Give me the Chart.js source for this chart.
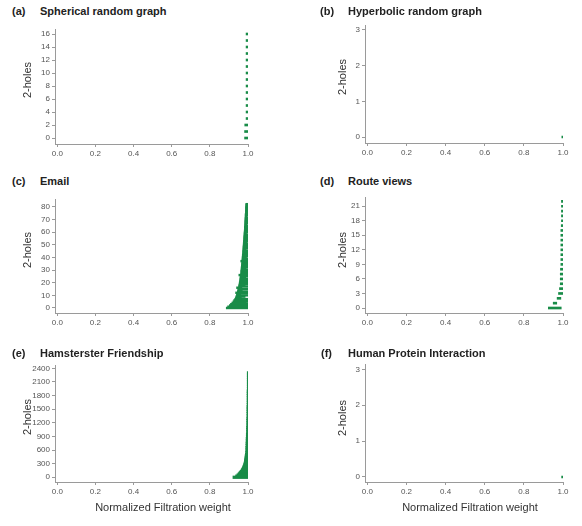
<!DOCTYPE html>
<html>
  <head>
    <meta charset="utf-8">
    <title>2-holes barcodes</title>
    <script src="https://cdn.jsdelivr.net/npm/chart.js"></script>
    <style>
    body { margin: 0; background: #fff; }
    #wrap { position: relative; width: 582px; height: 526px; overflow: hidden; font-family: "Liberation Sans", Arial, sans-serif; }
    canvas { position: absolute; }
    .txt { position: absolute; white-space: nowrap; line-height: 1; color: #222; }
    .head { font-size: 11px; font-weight: bold; transform: translateY(-50%); }
    .ytitle { font-size: 11px; color: #333; transform: translate(-50%, -50%) rotate(-90deg); }
    .xtitle { font-size: 11px; color: #333; transform: translate(-50%, -50%); }
  </style>
  </head>
  <body>
    <div id="wrap"></div>
    <script>
    // tick labels
    const xTicks = [0, 0.2, 0.4, 0.6, 0.8, 1.0];
    const sphericalTicks = [0, 2, 4, 6, 8, 10, 12, 14, 16];
    const hyperbolicTicks = [0, 1, 2, 3];
    const emailTicks = [0, 10, 20, 30, 40, 50, 60, 70, 80];
    const routeTicks = [0, 3, 6, 9, 12, 15, 18, 21];
    const hamsterTicks = [0, 300, 600, 900, 1200, 1500, 1800, 2100, 2400];
    const proteinTicks = [0, 1, 2, 3];

    const panelLetters = ["(a)", "(b)", "(c)", "(d)", "(e)", "(f)"];
    const panelNames = ["Spherical random graph", "Hyperbolic random graph", "Email",
      "Route views", "Hamsterster Friendship", "Human Protein Interaction"];
    const yTitle = "2-holes";
    const xTitle = "Normalized Filtration weight";

    // barcodes: birth / death of every 2-hole (row = hole index)
    const sphericalBirth = [0.982, 0.982, 0.983, 0.99, 0.99, 0.99, 0.99, 0.99, 0.99,
      0.99, 0.99, 0.99, 0.99, 0.99, 0.99, 0.99, 0.99];
    const sphericalDeath = [1, 1, 1, 1, 1, 1, 1, 1, 1, 1, 1, 1, 1, 1, 1, 1, 1];

    const hyperbolicBirth = [0.994];
    const hyperbolicDeath = [1];

    const emailBirth = [0.886, 0.893, 0.902, 0.908, 0.915, 0.921, 0.925, 0.93, 0.934, 0.936,
      0.939, 0.941, 0.935, 0.944, 0.946, 0.948, 0.94, 0.95, 0.952, 0.953,
      0.954, 0.955, 0.957, 0.957, 0.958, 0.959, 0.952, 0.961, 0.962, 0.962,
      0.963, 0.964, 0.964, 0.965, 0.966, 0.966, 0.967, 0.962, 0.968, 0.969,
      0.969, 0.97, 0.97, 0.971, 0.972, 0.972, 0.973, 0.973, 0.974, 0.974,
      0.975, 0.975, 0.976, 0.976, 0.977, 0.977, 0.978, 0.978, 0.979, 0.979,
      0.98, 0.98, 0.981, 0.981, 0.981, 0.982, 0.982, 0.983, 0.983, 0.983,
      0.984, 0.984, 0.985, 0.985, 0.985, 0.986, 0.986, 0.986, 0.987, 0.987,
      0.987, 0.988, 0.988];
    const emailDeath = [1, 1, 1, 1, 0.99, 1, 1, 1, 0.965, 0.985,
      1, 0.962, 1, 1, 0.97, 1, 0.968, 1, 0.985, 1,
      1, 1, 1, 1, 0.988, 1, 1, 1, 1, 1,
      1, 0.99, 1, 1, 1, 1, 1, 1, 1, 1,
      0.992, 1, 1, 1, 1, 1, 0.99, 1, 1, 1,
      1, 1, 0.993, 1, 1, 1, 1, 1, 1, 0.992,
      1, 1, 1, 1, 1, 1, 0.994, 1, 1, 1,
      1, 1, 0.993, 1, 1, 1, 1, 1, 1, 1,
      1, 1, 1];

    const routeBirth = [0.925, 0.95, 0.97, 0.977, 0.982, 0.986, 0.986, 0.986, 0.987, 0.989,
      0.989, 0.989, 0.989, 0.989, 0.989, 0.989, 0.989, 0.991, 0.992, 0.992,
      0.992, 0.992, 0.992];
    const routeDeath = [0.991, 0.968, 0.989, 1, 1, 1, 1, 1, 1, 1,
      1, 1, 1, 1, 1, 1, 1, 1, 1, 1,
      1, 1, 1];

    // hamsterster has ~2300 holes: rows read at these indices
    const hamsterRow = [0, 25, 50, 75, 100, 125, 150, 175, 200, 225, 250, 275, 300, 325, 350,
      375, 400, 425, 450, 475, 500, 550, 600, 650, 700, 750, 800, 850, 900, 950,
      1000, 1050, 1100, 1150, 1200, 1250, 1300, 1350, 1400, 1450, 1500, 1550, 1600,
      1650, 1700, 1750, 1800, 1850, 1900, 1950, 2000, 2050, 2100, 2150, 2200, 2250, 2300];
    const hamsterBirth = [0.921, 0.935, 0.942, 0.948, 0.953, 0.958, 0.963, 0.966, 0.97, 0.972,
      0.975, 0.977, 0.979, 0.98, 0.981, 0.982, 0.983, 0.984, 0.985, 0.985,
      0.986, 0.987, 0.988, 0.988, 0.989, 0.989, 0.99, 0.99, 0.991, 0.991,
      0.992, 0.992, 0.992, 0.993, 0.993, 0.993, 0.993, 0.994, 0.994, 0.994,
      0.994, 0.994, 0.995, 0.995, 0.995, 0.995, 0.995, 0.995, 0.995, 0.996,
      0.996, 0.996, 0.996, 0.996, 0.996, 0.996, 0.996];
    const hamsterDeath = hamsterRow.map(() => 1);

    const proteinBirth = [0.993];
    const proteinDeath = [1];

    const green = "#198c48";
    const axisColor = "#9a9a9a";
    const tickColor = "#555";

    const wrap = document.getElementById("wrap");

    function addText(cls, text, x, y) {
      const d = document.createElement("div");
      d.className = "txt " + cls;
      d.textContent = text;
      d.style.left = x + "px";
      d.style.top = y + "px";
      wrap.appendChild(d);
    }

    function toBars(birth, death, rows) {
      return birth.map((b, i) => ({ x: [b, death[i]], y: rows ? rows[i] : i }));
    }

    // box = plot area in page pixels
    function panel(box, yMin, yMax, yTicks, bars, thick) {
      const padL = 40, padT = 10, padR = 20, padB = 20;
      const c = document.createElement("canvas");
      const w = box.x1 - box.x0 + padL + padR;
      const h = box.y1 - box.y0 + padT + padB;
      c.width = w; c.height = h;
      c.style.left = (box.x0 - padL) + "px";
      c.style.top = (box.y0 - padT) + "px";
      c.style.width = w + "px"; c.style.height = h + "px";
      wrap.appendChild(c);

      const tickFont = { family: "'Liberation Sans', Arial, sans-serif", size: 8 };
      new Chart(c.getContext("2d"), {
        type: "bar",
        data: {
          datasets: [{
            data: bars,
            backgroundColor: green,
            borderWidth: 0,
            barThickness: thick
          }]
        },
        options: {
          responsive: false,
          animation: false,
          indexAxis: "y",
          layout: { padding: { left: 0, top: padT, right: padR, bottom: 0 } },
          plugins: { legend: { display: false }, tooltip: { enabled: false } },
          scales: {
            x: {
              type: "linear",
              min: -0.012,
              max: 1,
              afterBuildTicks: (s) => { s.ticks = xTicks.map((v) => ({ value: v })); },
              afterFit: (s) => { s.height = padB; s.paddingLeft = 0; s.paddingRight = 0; },
              ticks: { callback: (v) => v.toFixed(1), font: tickFont, color: tickColor, padding: 2, maxRotation: 0, autoSkip: false },
              grid: { display: true, drawOnChartArea: false, tickLength: 3, color: axisColor },
              border: { display: true, color: axisColor }
            },
            y: {
              type: "linear",
              offset: false,
              min: yMin,
              max: yMax,
              afterBuildTicks: (s) => { s.ticks = yTicks.map((v) => ({ value: v })); },
              afterFit: (s) => { s.width = padL; s.paddingTop = 0; s.paddingBottom = 0; },
              ticks: { callback: (v) => String(v), font: tickFont, color: tickColor, padding: 2, autoSkip: false },
              grid: { display: true, offset: false, drawOnChartArea: false, tickLength: 3, color: axisColor },
              border: { display: true, color: axisColor }
            }
          }
        }
      });
    }

    panel({ x0: 55, x1: 248, y0: 29, y1: 144 }, -0.92, 16.77, sphericalTicks,
      toBars(sphericalBirth, sphericalDeath), 2);
    panel({ x0: 365, x1: 563, y0: 25, y1: 143 }, -0.168, 3.14, hyperbolicTicks,
      toBars(hyperbolicBirth, hyperbolicDeath), 2);
    panel({ x0: 55, x1: 248, y0: 199, y1: 313 }, -3.96, 86.1, emailTicks,
      toBars(emailBirth, emailDeath), 1.8);
    panel({ x0: 365, x1: 563, y0: 197, y1: 313 }, -1.03, 22.9, routeTicks,
      toBars(routeBirth, routeDeath), 2);
    panel({ x0: 55, x1: 248, y0: 365, y1: 482 }, -104, 2473, hamsterTicks,
      toBars(hamsterBirth, hamsterDeath, hamsterRow), 2.6);
    panel({ x0: 365, x1: 563, y0: 364, y1: 482 }, -0.14, 3.15, proteinTicks,
      toBars(proteinBirth, proteinDeath), 2);

    // panel headings
    const heads = [[12, 40, 11], [320, 348, 11], [12, 40, 181], [320, 348, 181], [12, 40, 353], [321, 348, 353]];
    heads.forEach((p, i) => {
      addText("head", panelLetters[i], p[0], p[2]);
      addText("head", panelNames[i], p[1], p[2]);
    });

    // axis titles
    [[27, 80], [342, 77], [27, 250], [342, 250], [27, 417], [342, 418]].forEach((p) => addText("ytitle", yTitle, p[0], p[1]));
    addText("xtitle", xTitle, 163, 507);
    addText("xtitle", xTitle, 470, 507);
  </script>
  </body>
</html>
